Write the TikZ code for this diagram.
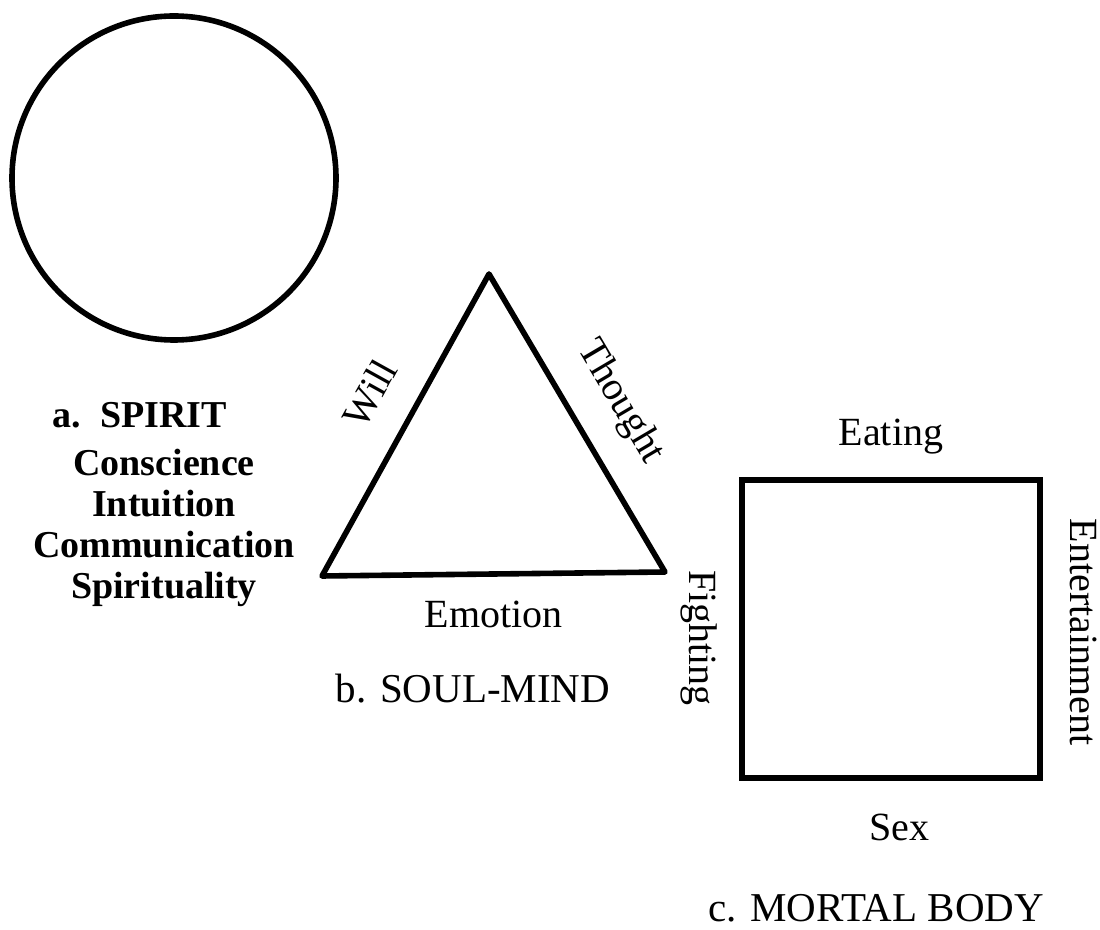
\documentclass[tikz,border=0pt]{standalone}
\usepackage{fontspec}
\setmainfont{Liberation Serif}
\usetikzlibrary{positioning}

\begin{document}
\begin{tikzpicture}[x=0.5pt, y=-0.5pt, line width=2.8pt,
    every node/.style={font=\fontsize{20}{24}\selectfont},
    faculty/.style={font=\bfseries\fontsize{19}{20.5}\selectfont, align=center},
    title/.style={font=\fontsize{20.5}{24}\selectfont}]
  \useasboundingbox (0,0) rectangle (1100,930);

  \node[circle, draw, minimum size=162pt, inner sep=0pt] (spirit) at (174,178) {};
  \node[faculty, anchor=base] (spiritlabel) at (140,428) {a.\ \ SPIRIT};
  \node[faculty, anchor=north] (spiritlist) at (164,440) {Conscience\\Intuition\\Communication\\Spirituality};

  \coordinate (top) at (489,274);
  \coordinate (left) at (322,576);
  \coordinate (right) at (665,572);
  \draw[line join=round] (left) -- node[sloped, above=11.5pt, pos=0.53] (will) {Will}
    (top) -- node[sloped, above=10pt, pos=0.51] (thought) {Thought}
    (right) -- node[below=9pt] (emotion) {Emotion} cycle;
  \node[title, anchor=base] (soullabel) at (473,703) {b. SOUL-MIND};

  \node[draw, minimum width=149pt, minimum height=149pt, inner sep=0pt] (body) at (891,629) {};
  \node[above=7pt of body] (eating) {Eating};
  \node[below=12pt of body, xshift=4pt] (sex) {Sex};
  \node[rotate=-90, anchor=north] (fighting) at ([xshift=-6pt, yshift=-4.5pt]body.west) {Fighting};
  \node[rotate=-90, anchor=south] (entertain) at ([xshift=9pt, yshift=-1.5pt]body.east) {Entertainment};
  \node[title, anchor=base] (bodylabel) at (876,922) {c. MORTAL BODY};
\end{tikzpicture}
\end{document}
